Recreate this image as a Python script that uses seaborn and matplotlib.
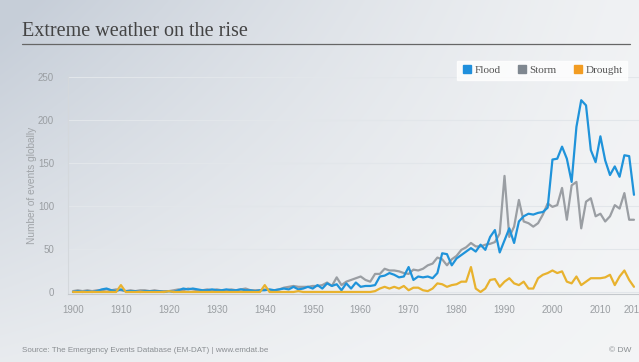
import numpy as np
import pandas as pd
import matplotlib
matplotlib.use("Agg")
import matplotlib.pyplot as plt
from matplotlib.lines import Line2D
import seaborn as sns

years = list(range(1900, 2018))
flood = [0,1,0,1,0,1,3,4,2,1,
         3,1,1,1,0,1,1,1,1,0,
         1,0,2,4,3,4,3,2,2,3,
         2,2,3,2,2,3,2,2,1,2,
         2,3,2,3,4,3,6,3,4,6,
         4,8,4,10,7,9,2,10,4,11,
         6,7,7,8,18,19,22,20,17,18,
         29,14,18,17,18,16,22,45,44,31,
         39,43,47,51,47,55,49,64,72,46,
         60,74,57,82,88,91,90,92,93,98,
         154,155,169,155,128,192,223,217,165,151,
         181,153,136,146,134,159,158,113]
storm = [1,2,1,2,1,2,2,3,2,3,
         2,1,2,1,2,2,1,2,1,1,
         1,2,3,2,4,3,2,2,3,2,
         3,2,2,3,2,3,4,2,2,2,
         3,2,2,3,5,6,7,6,6,6,
         7,7,8,11,7,17,8,12,14,16,
         18,14,12,21,21,27,25,25,24,22,
         21,26,25,27,31,33,40,38,31,38,
         42,49,52,57,53,53,55,56,58,68,
         135,64,76,107,82,80,76,80,90,103,
         99,101,121,84,124,128,74,105,109,88,
         91,82,88,101,97,115,84,84]
drought = [0,0,0,0,0,0,0,0,0,0,
           8,0,0,0,0,0,0,0,0,0,
           1,0,0,0,0,0,0,0,0,0,
           0,0,0,0,0,0,0,0,0,0,
           8,0,0,0,0,0,0,1,0,0,
           0,0,0,0,0,0,0,0,0,0,
           0,0,0,1,4,6,4,6,4,7,
           2,5,5,2,1,4,10,9,6,8,
           9,12,12,29,4,0,4,14,15,6,
           12,16,10,8,12,4,4,16,20,22,
           25,22,24,12,10,18,8,12,16,16,
           16,17,20,8,18,25,14,6]

categories = ["Flood", "Storm", "Drought"]
colors = {"Flood": "#1f93da", "Storm": "#9a9ea3", "Drought": "#e8b22e"}
legend_colors = {"Flood": "#1f8fdc", "Storm": "#7f8790", "Drought": "#f29c22"}
x_ticks = [1900, 1910, 1920, 1930, 1940, 1950, 1960, 1970, 1980, 1990, 2000, 2010, 2017]
y_ticks = [0, 50, 100, 150, 200, 250]

df = pd.concat([
    pd.DataFrame({"year": years, "count": flood, "type": "Flood"}),
    pd.DataFrame({"year": years, "count": storm, "type": "Storm"}),
    pd.DataFrame({"year": years, "count": drought, "type": "Drought"}),
])

sns.set_style("white")
plt.rcParams["font.family"] = ["Liberation Sans", "DejaVu Sans"]

W, H = 639, 362
fig = plt.figure(figsize=(W / 100, H / 100), dpi=100)

# background gradient
bg = fig.add_axes([0, 0, 1, 1], zorder=-10)
u = np.linspace(0, 1, 320)[None, :]
v = np.linspace(0, 1, 180)[:, None]
dark = np.array([0.78, 0.81, 0.85])
light = np.array([0.955, 0.96, 0.965])
f = np.clip((1 - u) ** 1.3 * (1 - 0.75 * v) + 0.08 * (1 - v), 0, 1)
img = light[None, None, :] - (light - dark)[None, None, :] * f[:, :, None]
bg.imshow(img, aspect="auto", extent=[0, 1, 0, 1], interpolation="bilinear")
bg.set_axis_off()

# main axes
left = 68 / W
right = 1.0
bottom = (H - 293.7) / H
top = (H - 77) / H
ax = fig.add_axes([left, bottom, right - left, top - bottom])
ax.patch.set_alpha(0)

sns.lineplot(data=df, x="year", y="count", hue="type",
             hue_order=["Storm", "Flood", "Drought"],
             palette=colors, linewidth=1.6, legend=False, ax=ax)

ax.set_xlim(1898.96, 2018.05)
ax.set_ylim(-2, 250)
ax.set_xticks(x_ticks)
ax.set_xticks(years, minor=True)
ax.set_yticks(y_ticks)
ax.set_xlabel("")
ax.set_ylabel("Number of events globally", color="#a0a4a8", fontsize=7.3, labelpad=1)
ax.yaxis.grid(True, color="#e2e6ea", linewidth=0.8)
ax.set_axisbelow(True)
for s in ["top", "right"]:
    ax.spines[s].set_visible(False)
ax.spines["left"].set_color("#d4d8dc")
ax.spines["bottom"].set_color("#c4c8cc")
ax.tick_params(axis="x", which="major", direction="inout", length=6, color="#b8bcc0",
               labelsize=7, labelcolor="#9a9ea2", pad=5)
ax.tick_params(axis="x", which="minor", direction="in", length=3, color="#c0c4c8")
ax.tick_params(axis="y", which="major", length=0, labelsize=7, labelcolor="#9a9ea2", pad=10)

# legend
handles = [Line2D([0], [0], marker="s", linestyle="", markersize=6,
                  markerfacecolor=legend_colors[c], markeredgecolor=legend_colors[c], label=c)
           for c in categories]
leg = fig.legend(handles=handles, loc="upper right", bbox_to_anchor=(633 / W, 1 - 55 / H),
                 ncol=3, frameon=True, fancybox=False, handlelength=0.8, handletextpad=0.3,
                 columnspacing=1.5, borderpad=0.45, prop={"family": "Liberation Serif", "size": 8})
leg.get_frame().set_facecolor("white")
leg.get_frame().set_edgecolor("white")
for t in leg.get_texts():
    t.set_color("#555555")

# title and rule
fig.text(22 / W, 1 - 31 / H, "Extreme weather on the rise", fontsize=14.5,
         family="Liberation Serif", color="#444444", va="center", ha="left")
fig.add_artist(Line2D([22 / W, 630 / W], [1 - 44 / H, 1 - 44 / H], color="#666666",
                      linewidth=0.9, transform=fig.transFigure))

# footer
fig.text(22 / W, 1 - 351 / H, "Source: The Emergency Events Database (EM-DAT) | www.emdat.be",
         fontsize=5.8, color="#8a8e92", va="center", ha="left")
fig.text(631 / W, 1 - 351 / H, "© DW", fontsize=6, color="#8a8e92", va="center", ha="right")

fig.savefig("out.png", dpi=100)
